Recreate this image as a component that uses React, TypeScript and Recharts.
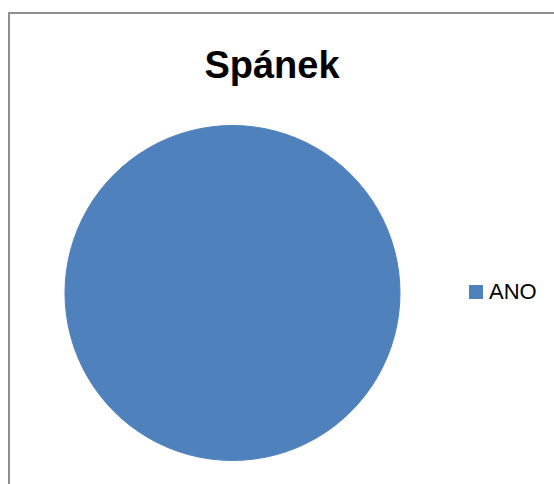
import React from 'react';
import { PieChart, Pie, Cell, Legend } from 'recharts';

const categories = ['ANO'];
const values = [100];
const colors = ['#4F81BD'];
const title = 'Spánek';

const data = categories.map((name, i) => ({ name, value: values[i] }));

const renderLegend = (props: any) => {
  const { payload } = props;
  return (
    <div>
      {(payload || []).map((entry: any, i: number) => (
        <div key={i} style={{ display: 'flex', alignItems: 'center', fontFamily: '"Liberation Sans", Arial, sans-serif', fontSize: 22, color: '#000' }}>
          <span style={{ display: 'inline-block', width: 14, height: 14, background: entry.color, marginRight: 6 }} />
          <span>{entry.value}</span>
        </div>
      ))}
    </div>
  );
};

export default function App() {
  return (
    <div style={{ position: 'absolute', left: 0, top: 0, width: 554, height: 484, overflow: 'hidden', background: '#fff' }}>
      <div style={{ position: 'absolute', left: 8, top: 12, width: 700, height: 700, borderLeft: '2px solid #8f8f8f', borderTop: '2px solid #8f8f8f' }} />
      <svg width={554} height={120} style={{ position: 'absolute', left: 0, top: 0 }}>
        <text x={272} y={78} textAnchor="middle" fontFamily='"Liberation Sans", Arial, sans-serif' fontWeight="bold" fontSize={38} fill="#000">{title}</text>
      </svg>
      <div style={{ position: 'absolute', left: 0, top: 0 }}>
        <PieChart width={554} height={484} margin={{ top: 0, right: 0, bottom: 0, left: 0 }}>
          <Pie
            data={data}
            dataKey="value"
            nameKey="name"
            cx={232.5}
            cy={293}
            outerRadius={167.5}
            startAngle={90}
            endAngle={-270}
            stroke={colors[0]}
            strokeWidth={1}
            isAnimationActive={false}
          >
            {data.map((d, i) => (
              <Cell key={d.name} fill={colors[i]} stroke={colors[i]} />
            ))}
          </Pie>
          <Legend
            layout="vertical"
            align="right"
            verticalAlign="top"
            content={renderLegend}
            wrapperStyle={{ left: 469, top: 279, width: 90 }}
          />
        </PieChart>
      </div>
    </div>
  );
}
